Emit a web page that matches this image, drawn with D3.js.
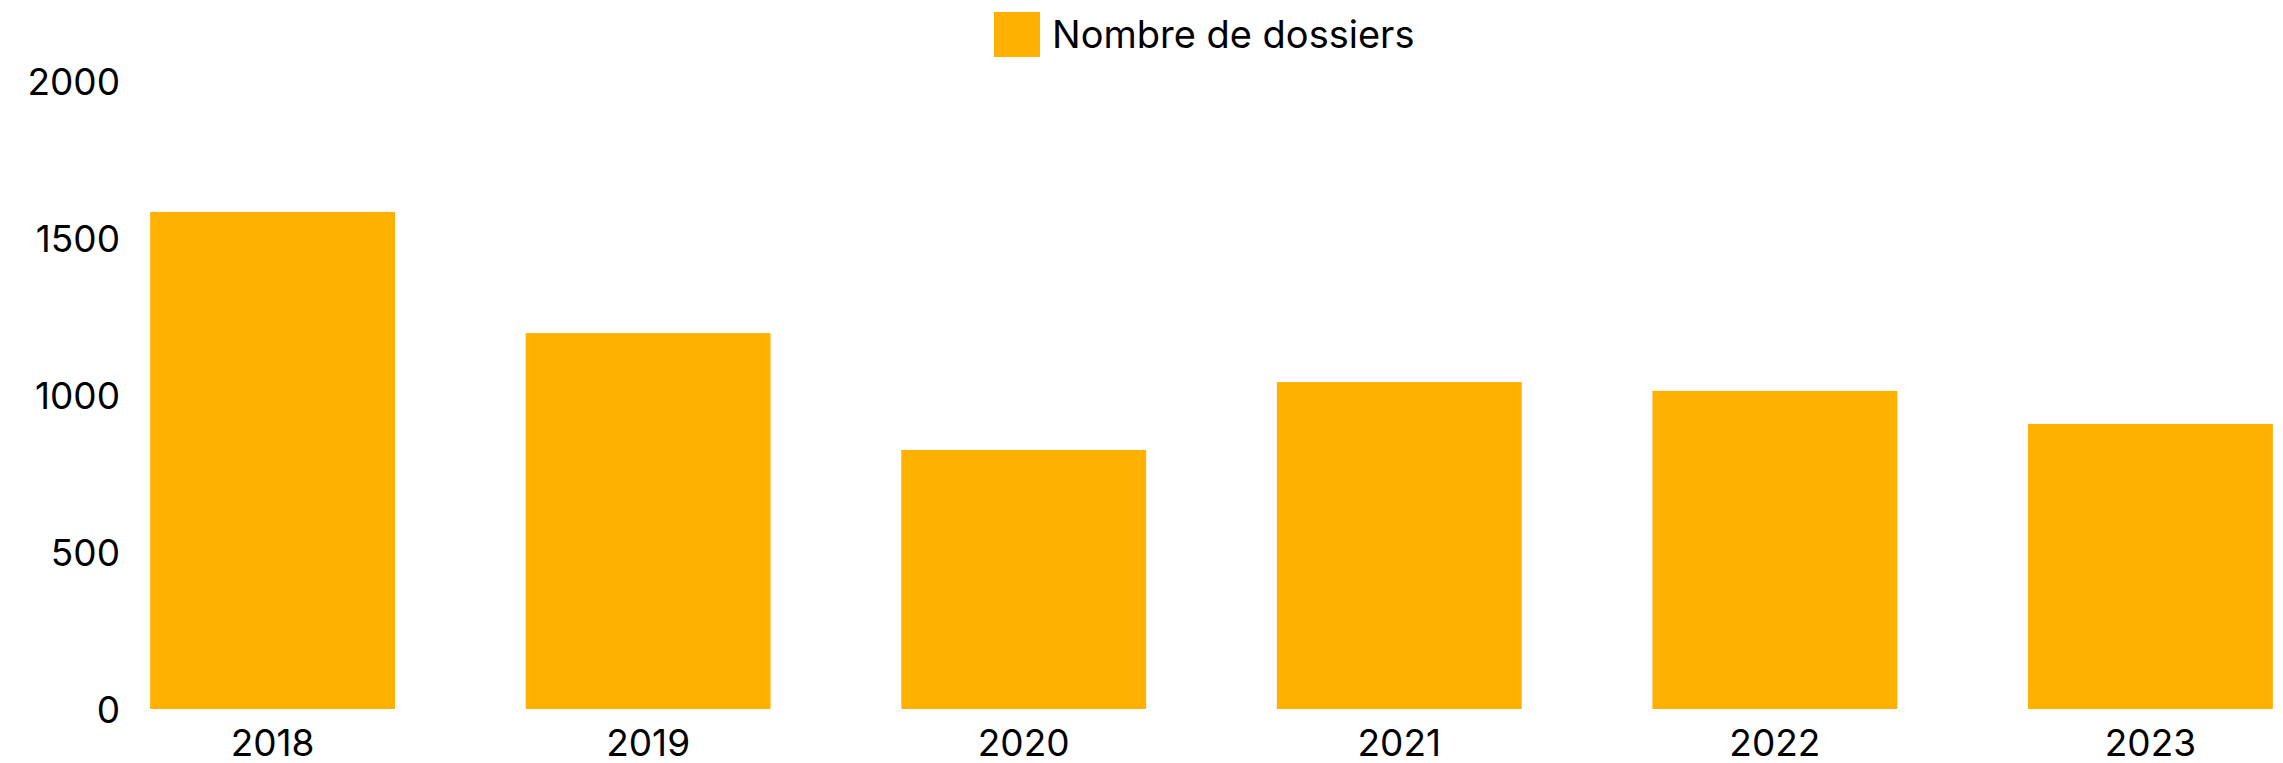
<!DOCTYPE html>
<html>
<head>
<meta charset="utf-8">
<script src="https://cdn.jsdelivr.net/npm/d3@7"></script>
<style>
  body { margin: 0; background: #fff; }
  text { font-family: Inter, "Noto Sans", sans-serif; fill: #000; }
</style>
</head>
<body>
<svg id="chart"></svg>
<script>
var years = ["2018", "2019", "2020", "2021", "2022", "2023"];
var dossiers = [1583, 1197, 825, 1041, 1013, 908];
var yTicks = [0, 500, 1000, 1500, 2000];
var seriesName = "Nombre de dossiers";

var width = 2283;
var height = 763;
var color = "#FFB000";

var svg = d3.select("#chart")
    .attr("width", width)
    .attr("height", height);

var x = d3.scaleBand()
    .domain(years)
    .range([140, 2283])
    .paddingInner(0.348)
    .paddingOuter(0.027);

var y = d3.scaleLinear()
    .domain([0, 2000])
    .range([709, 81]);

// bars
svg.append("g")
  .selectAll("rect")
  .data(years)
  .enter()
  .append("rect")
    .attr("x", d => x(d))
    .attr("width", x.bandwidth())
    .attr("y", (d, i) => y(dossiers[i]))
    .attr("height", (d, i) => y(0) - y(dossiers[i]))
    .attr("fill", color);

// y axis labels
var yAxis = svg.append("g")
    .attr("transform", "translate(120,0)")
    .call(d3.axisLeft(y).tickValues(yTicks).tickFormat(d3.format("d")).tickSize(0).tickPadding(0));
yAxis.select(".domain").remove();
yAxis.selectAll("text")
    .attr("font-size", 37)
    .attr("font-family", null)
    .attr("dy", "0.36em");

// x axis labels
var xAxis = svg.append("g")
    .attr("transform", "translate(0,709)")
    .call(d3.axisBottom(x).tickSize(0).tickPadding(21));
xAxis.select(".domain").remove();
xAxis.selectAll("text")
    .attr("font-size", 37)
    .attr("font-family", null);

// legend
var legend = svg.append("g").attr("transform", "translate(994,12)");
legend.append("rect")
    .attr("width", 46)
    .attr("height", 45)
    .attr("fill", color);
legend.append("text")
    .attr("x", 58)
    .attr("y", 36)
    .attr("font-size", 38)
    .text(seriesName);
</script>
</body>
</html>
